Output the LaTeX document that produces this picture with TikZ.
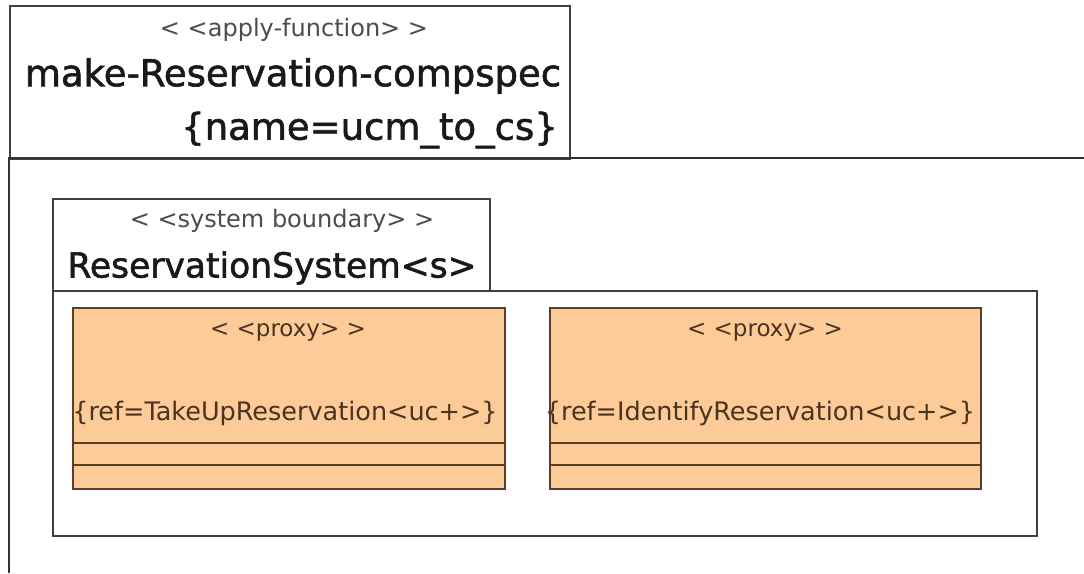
\documentclass[tikz,border=0pt]{standalone}
\usepackage{fontspec}
\setmainfont{DejaVu Sans}[Ligatures=TeXOff]
\usepackage{xcolor}
\usepackage{tikz}
\usetikzlibrary{positioning}
\definecolor{proxyfill}{HTML}{FDCB98}
\definecolor{proxyline}{HTML}{5A3E25}
\definecolor{proxytext}{HTML}{4A3320}

\begin{document}
\begin{tikzpicture}[x=1pt,y=-1pt,
  frame/.style={draw=black!80,line width=1.6pt},
  panel/.style={draw=black!75,line width=1.6pt,anchor=north west,inner sep=0pt,minimum width=#1},
  proxybox/.style={draw=proxyline,fill=proxyfill,line width=1.6pt,anchor=north west,inner sep=0pt,minimum width=432,minimum height=181},
  stereo/.style={text=black!70,font=\fontsize{24}{29}\selectfont,inner sep=0pt},
  title/.style={text=black!90,font=\fontsize{#1}{42}\selectfont\addfontfeature{FakeBold=1.6},inner sep=0pt},
  title/.default=37,
  proxytxt/.style={text=proxytext,font=\fontsize{#1}{30}\selectfont,inner sep=0pt},
  proxytxt/.default=25.5]
  \useasboundingbox[fill=white] (0,0) rectangle (1084,573);
  % apply-function frame
  \node[panel=560,minimum height=153] (hdr) at (9,5) {};
  \draw[frame] (1084,158) -- (9,158) -- (9,573);
  \node[stereo] (hdrst) at (294,30) {< <apply-function> >};
  \node[title] (hdrname) at (293,76) {make-Reservation-compspec};
  \node[title,anchor=east] (hdrarg) at (558,130) {\{name=ucm\_to\_cs\}};
  % system boundary
  \node[panel=437,minimum height=92] (systab) at (52,198) {};
  \node[panel=984,minimum height=245] (sysbody) at (52,290) {};
  \node[stereo] (sysst) at (282,221) {< <system boundary> >};
  \node[title=34.5] (sysname) at (272,268) {ReservationSystem<s>};
  % proxies
  \node[proxybox] (pa) at (72,307) {};
  \node[proxybox,minimum width=431] (pb) at (549,307) {};
  \foreach \p in {pa,pb} {
    \draw[proxyline,line width=1.4pt] ([yshift=-136]\p.north west) -- ([yshift=-136]\p.north east);
    \draw[proxyline,line width=1.4pt] ([yshift=-158]\p.north west) -- ([yshift=-158]\p.north east);
  }
  \node[proxytxt=23] (past) at (288,332) {< <proxy> >};
  \node[proxytxt] (paref) at (285,413) {\{ref=TakeUpReservation<uc+>\}};
  \node[proxytxt=23] (pbst) at (765,332) {< <proxy> >};
  \node[proxytxt] (pbref) at (760,413) {\{ref=IdentifyReservation<uc+>\}};
\end{tikzpicture}
\end{document}
